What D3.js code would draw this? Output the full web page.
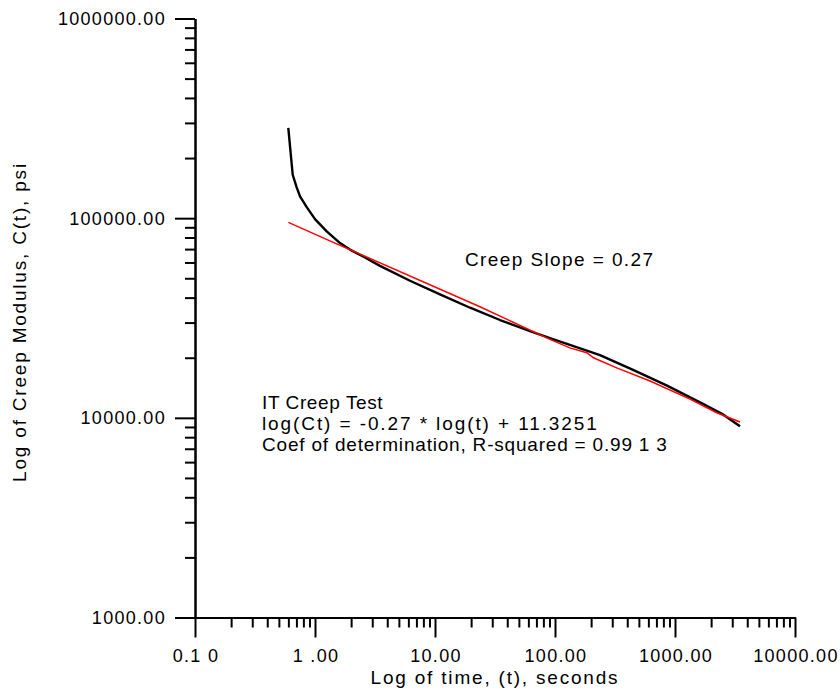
<!DOCTYPE html>
<html>
<head>
<meta charset="utf-8">
<script src="https://cdn.jsdelivr.net/npm/d3@7"></script>
<style>
  body { margin: 0; background: #fff; }
  text { font-family: "Liberation Sans", Arial, sans-serif; fill: #000; }
</style>
</head>
<body>
<div id="chart"></div>
<script>
// measured creep modulus (black curve)
var measuredTime = [0.599, 0.652, 0.700, 0.750, 0.853, 1.0, 1.252, 1.616, 1.957, 2.61, 3.48,
                    6.19, 11.0, 19.6, 34.8, 61.9, 90.8, 133, 237, 447, 858, 1615, 2512, 3480];
var measuredModulus = [283000, 165000, 144000, 128500, 113500, 98900, 85900, 75000, 69600, 63500, 57700,
                       48600, 41500, 35600, 30900, 27200, 25100, 23200, 20600, 17400, 14500, 11950, 10400, 9070];

// power law fit (red line)
var fitTime = [0.60, 1.33, 23.7, 90.8, 133, 184, 209, 327, 619, 1334, 2226, 3480];
var fitModulus = [95300, 77000, 36000, 24700, 22400, 21200, 20000, 17800, 15300, 12400, 10600, 9530];

var xMajor = [0.1, 1, 10, 100, 1000, 10000];
var xTickLabels = ["0.1 0", "1 .00", "10.00", "100.00", "1000.00", "10000.00"];
var yMajor = [1000, 10000, 100000, 1000000];
var yTickLabels = ["1000.00", "10000.00", "100000.00", "1000000.00"];

var notes = ["IT Creep Test",
             "log(Ct) = -0.27 * log(t) + 11.3251",
             "Coef of determination, R-squared = 0.99 1 3"];
var noteSpacing = [0.6, 1.9, 0.8];   // the pdf-ish text is spaced unevenly
var slopeNote = "Creep Slope = 0.27";

function minorTicks(majors) {
  var out = [];
  for (var i = 0; i < majors.length - 1; i++)
    for (var k = 2; k <= 9; k++) out.push(majors[i] * k);
  return out;
}

function init() {
  var w = 840, h = 692;
  var left = 195, right = 795, top = 18.5, bottom = 617.5;

  var svg = d3.select("#chart").append("svg")
              .attr("width", w)
              .attr("height", h);

  var xScale = d3.scaleLog().domain([0.1, 10000]).range([left, right]);
  var yScale = d3.scaleLog().domain([1000, 1000000]).range([bottom, top]);

  // x axis: minor then major ticks
  var gx = svg.append("g").attr("transform", "translate(0," + bottom + ")");
  gx.call(d3.axisBottom(xScale).tickValues(minorTicks(xMajor)).tickSize(10).tickSizeOuter(0).tickFormat(""));
  gx.append("g").call(d3.axisBottom(xScale).tickValues(xMajor).tickSize(20).tickSizeOuter(0).tickFormat(""));
  gx.selectAll("path, line").attr("stroke", "#000").attr("stroke-width", 2);

  var gy = svg.append("g").attr("transform", "translate(" + left + ",0)");
  gy.call(d3.axisLeft(yScale).tickValues(minorTicks(yMajor)).tickSize(10).tickSizeOuter(0).tickFormat(""));
  gy.append("g").call(d3.axisLeft(yScale).tickValues(yMajor).tickSize(20).tickSizeOuter(0).tickFormat(""));
  gy.selectAll("path, line").attr("stroke", "#000").attr("stroke-width", 2);

  // tick labels
  svg.selectAll(".xlab").data(xMajor).enter().append("text")
     .attr("x", function(d) { return xScale(d) + 1; })
     .attr("y", 662)
     .attr("text-anchor", "middle")
     .style("font-size", "18px")
     .style("letter-spacing", "1.3px")
     .text(function(d, i) { return xTickLabels[i]; });

  svg.selectAll(".ylab").data(yMajor).enter().append("text")
     .attr("x", 166)
     .attr("y", function(d) { return yScale(d) + 6.5; })
     .attr("text-anchor", "end")
     .style("font-size", "18px")
     .style("letter-spacing", "1.3px")
     .text(function(d, i) { return yTickLabels[i]; });

  // axis titles
  svg.append("text")
     .attr("x", (left + right) / 2)
     .attr("y", 684)
     .attr("text-anchor", "middle")
     .style("font-size", "19px")
     .style("letter-spacing", "1.8px")
     .text("Log of time, (t), seconds");

  svg.append("text")
     .attr("transform", "translate(26," + 322 + ") rotate(-90)")
     .attr("text-anchor", "middle")
     .style("font-size", "19px")
     .style("letter-spacing", "1.8px")
     .text("Log of Creep Modulus, C(t), psi");

  // lines
  var line = d3.line()
               .x(function(d) { return xScale(d[0]); })
               .y(function(d) { return yScale(d[1]); });

  svg.append("path")
     .datum(d3.zip(measuredTime, measuredModulus))
     .attr("fill", "none")
     .attr("stroke", "#000")
     .attr("stroke-width", 2.4)
     .attr("stroke-linejoin", "round")
     .attr("d", line);

  svg.append("path")
     .datum(d3.zip(fitTime, fitModulus))
     .attr("fill", "none")
     .attr("stroke", "#ff0000")
     .attr("stroke-width", 1.5)
     .attr("d", line);

  // annotations
  svg.append("text")
     .attr("x", 465)
     .attr("y", 266)
     .style("font-size", "19px")
     .style("letter-spacing", "1.4px")
     .text(slopeNote);

  svg.selectAll(".note").data(notes).enter().append("text")
     .attr("x", 262)
     .attr("y", function(d, i) { return 409 + i * 21; })
     .style("font-size", "19px")
     .style("letter-spacing", function(d, i) { return noteSpacing[i] + "px"; })
     .text(function(d) { return d; });
}

window.onload = init;
</script>
</body>
</html>
